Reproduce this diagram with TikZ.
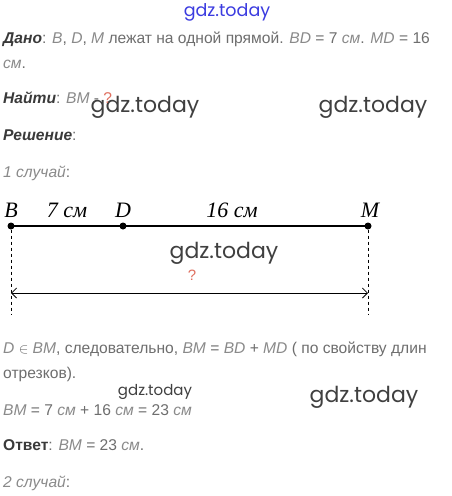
\documentclass[tikz,border=0pt]{standalone}
\usepackage{fontspec}
\setmainfont{Liberation Sans}
\newfontfamily\figfont{Liberation Serif}
\newfontfamily\wmfont{Poppins}
\usepackage{xcolor}
\usetikzlibrary{arrows.meta}

\definecolor{txtgray}{HTML}{6E6E6E}
\definecolor{vargray}{HTML}{8A8A8A}
\definecolor{hdrgray}{HTML}{3A3A3A}
\definecolor{wmblue}{HTML}{3B3BE0}
\definecolor{qred}{HTML}{E07060}

\tikzset{
  line/.style={anchor=base west, inner sep=0pt, text=txtgray,
    font=\fontsize{15.6}{17}\selectfont},
  watermark/.style={inner sep=0pt, text=black!75,
    font=\wmfont\fontsize{22}{24}\selectfont},
  ptlabel/.style={anchor=base, inner sep=0pt,
    font=\figfont\itshape\fontsize{22}{24}\selectfont},
  pt/.style={circle, fill=black, inner sep=0pt, minimum size=7pt},
}
\newcommand{\va}[1]{\textcolor{vargray}{\textit{#1}}}
\newcommand{\hd}[1]{\textcolor{hdrgray}{\textbf{\textit{#1}}}}

\begin{document}
\begin{tikzpicture}[x=1pt, y=-1pt]
  \useasboundingbox[fill=white] (0,0) rectangle (452,496);

  % watermarks
  \node[watermark, text=wmblue, font=\wmfont\fontsize{17.5}{19}\selectfont] (wm0) at (227,12) {gdz.today};
  \node[watermark] (wm1) at (145,107) {gdz.today};
  \node[watermark] (wm2) at (373,107) {gdz.today};
  \node[watermark] (wm3) at (224,253) {gdz.today};
  \node[watermark, font=\wmfont\fontsize{15}{17}\selectfont] (wm4) at (155,392) {gdz.today};
  \node[watermark] (wm5) at (364,397) {gdz.today};

  % given / find
  \node[line] (given) at (3,43) {\hd{Дано}: \va{B}, \va{D}, \va{M} лежат на одной прямой. \va{BD} = 7 \va{см}. \va{MD} = 16};
  \node[line] (given2) at (3,68) {\va{см}.};
  \node[line] (find) at (3,103) {\hd{Найти}: \va{BM} - \textcolor{qred}{?}};
  \node[line] (sol) at (3,140) {\hd{Решение}:};
  \node[line] (case1) at (3,177) {\va{1 случай}:};

  % the segment
  \coordinate (B) at (11,226);
  \coordinate (D) at (123,226);
  \coordinate (M) at (368,226);
  \draw[line width=1.8pt] (B) -- (M);
  \node[pt] (pB) at (B) {};
  \node[pt] (pD) at (D) {};
  \node[pt] (pM) at (M) {};
  \node[ptlabel] (lB) at (11,217) {B};
  \node[ptlabel] (lD) at (123,217) {D};
  \node[ptlabel] (lM) at (370,217) {M};
  \node[ptlabel] (lBD) at (67,217) {7 см};
  \node[ptlabel] (lDM) at (232,217) {16 см};

  % dashed guides and the length arrow
  \coordinate (Bb) at (11,314);
  \coordinate (Mb) at (368,314);
  \draw[dashed, line width=0.7pt] (pB) -- (Bb);
  \draw[dashed, line width=0.7pt] (pM) -- (Mb);
  \coordinate (aB) at (11,293);
  \coordinate (aM) at (368,293);
  \draw[{Straight Barb[length=5pt]}-{Straight Barb[length=5pt]}, line width=0.8pt] (aB) -- (aM);
  \node[inner sep=0pt, text=qred, font=\fontsize{15}{17}\selectfont] (q) at (192,275) {?};

  % solution
  \node[line] (sol1) at (3,353) {\va{D} $\in$ \va{BM}, следовательно, \va{BM} = \va{BD} + \va{MD} ( по свойству длин};
  \node[line] (sol2) at (3,378) {отрезков).};
  \node[line] (sol3) at (3,415) {\va{BM} = 7 \va{см} + 16 \va{см} = 23 \va{см}};
  \node[line] (ans) at (3,450) {\textcolor{hdrgray}{\textbf{Ответ}}: \va{BM} = 23 \va{см}.};
  \node[line] (case2) at (3,487) {\va{2 случай}:};
\end{tikzpicture}
\end{document}
